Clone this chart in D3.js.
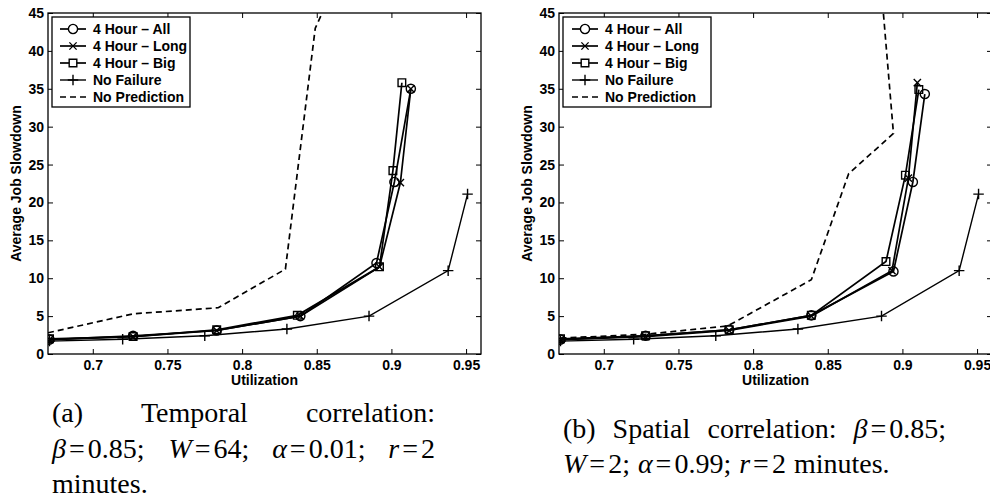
<!DOCTYPE html>
<html>
<head>
<meta charset="utf-8">
<script src="https://cdn.jsdelivr.net/npm/d3@7"></script>
<style>
  body { margin: 0; background: #fff; }
  svg text { font-family: "Liberation Sans", Arial, Helvetica, sans-serif; }
  .cap text { font-family: "Liberation Serif", "Times New Roman", serif; }
</style>
</head>
<body>
<svg id="fig" width="990" height="498"></svg>
<script>
// Achsen-Ticks
const xTicks = [0.7, 0.75, 0.8, 0.85, 0.9, 0.95];
const yTicks = [0, 5, 10, 15, 20, 25, 30, 35, 40, 45];
const legendLabels = ["4 Hour \u2013 All", "4 Hour \u2013 Long", "4 Hour \u2013 Big", "No Failure", "No Prediction"];

// (a) zeitliche Korrelation
const aAllU  = [0.671, 0.727, 0.783, 0.839, 0.890, 0.902, 0.913];
const aAllV  = [1.9, 2.4, 3.1, 5.0, 12.0, 22.7, 35.0];
const aLongU = [0.671, 0.727, 0.783, 0.839, 0.892, 0.906, 0.913];
const aLongV = [1.9, 2.3, 3.1, 5.0, 11.5, 22.6, 35.0];
const aBigU  = [0.671, 0.727, 0.783, 0.837, 0.892, 0.901, 0.907];
const aBigV  = [2.0, 2.3, 3.2, 5.1, 11.5, 24.2, 35.8];
const aNoFailU = [0.671, 0.720, 0.775, 0.830, 0.885, 0.938, 0.951];
const aNoFailV = [1.7, 1.95, 2.4, 3.3, 5.0, 11.0, 21.1];
const aNoPredU = [0.670, 0.727, 0.784, 0.829, 0.849, 0.870];
const aNoPredV = [2.8, 5.3, 6.1, 11.2, 43.0, 52.0];

// (b) räumliche Korrelation
const bAllU  = [0.671, 0.728, 0.784, 0.839, 0.894, 0.907, 0.915];
const bAllV  = [1.9, 2.4, 3.2, 5.1, 10.9, 22.7, 34.3];
const bLongU = [0.671, 0.728, 0.784, 0.839, 0.893, 0.904, 0.910];
const bLongV = [1.9, 2.3, 3.1, 5.0, 11.0, 23.2, 35.8];
const bBigU  = [0.671, 0.728, 0.784, 0.839, 0.889, 0.902, 0.911];
const bBigV  = [2.0, 2.4, 3.2, 5.1, 12.2, 23.6, 34.9];
const bNoFailU = [0.671, 0.720, 0.775, 0.830, 0.886, 0.938, 0.951];
const bNoFailV = [1.7, 1.95, 2.4, 3.3, 5.0, 11.0, 21.1];
const bNoPredU = [0.671, 0.728, 0.783, 0.839, 0.864, 0.894, 0.883];
const bNoPredV = [2.1, 2.6, 3.7, 9.8, 23.8, 29.1, 55.0];

// Bildunterschriften (*...* = kursiv)
const captionA = ["(a) Temporal correlation:", "*\u03b2*=0.85; *W*=64; *\u03b1*=0.01; *r*=2", "minutes."];
const captionB = ["(b) Spatial correlation: *\u03b2*=0.85;", "*W*=2; *\u03b1*=0.99; *r*=2 minutes."];

const zip = (u, v) => u.map((d, i) => [d, v[i]]);
const markers = ["circle", "times", "square", "plus", null];

const svg = d3.select("#fig");
const plotTop = 13, W = 433, H = 341;

const x = d3.scaleLinear().domain([0.67, 0.96]).range([0, W]);
const y = d3.scaleLinear().domain([0, 45]).range([H, 0]);

function markerPath(type) {
  if (type === "circle") return d3.symbol(d3.symbolCircle, 66)();
  if (type === "square") return d3.symbol(d3.symbolSquare, 58)();
  if (type === "times") return d3.symbol(d3.symbolTimes, 36)();
  if (type === "plus") return d3.symbol(d3.symbolPlus, 38)();
  return null;
}

function drawPanel(id, left, series, legendW, legendPad) {
  const g = svg.append("g").attr("transform", `translate(${left},${plotTop})`);

  g.append("clipPath").attr("id", "clip" + id)
    .append("rect").attr("width", W).attr("height", H);

  // Achsen mit Ticks nach innen
  const fmt = d => String(d);
  const xb = g.append("g").attr("transform", `translate(0,${H})`)
    .call(d3.axisBottom(x).tickValues(xTicks).tickFormat(fmt).tickSizeInner(-5).tickSizeOuter(0).tickPadding(6));
  const xt = g.append("g")
    .call(d3.axisTop(x).tickValues(xTicks).tickFormat("").tickSizeInner(-5).tickSizeOuter(0));
  const yl = g.append("g")
    .call(d3.axisLeft(y).tickValues(yTicks).tickFormat(fmt).tickSizeInner(-5).tickSizeOuter(0).tickPadding(4));
  const yr = g.append("g").attr("transform", `translate(${W},0)`)
    .call(d3.axisRight(y).tickValues(yTicks).tickFormat("").tickSizeInner(-5).tickSizeOuter(0));

  [xb, xt, yl, yr].forEach(a => {
    a.select(".domain").remove();
    a.selectAll("line").attr("stroke", "#000").attr("stroke-width", 1);
    a.selectAll("text").attr("fill", "#000")
      .style("font-size", "14px").style("font-weight", "bold");
  });

  g.append("rect").attr("width", W).attr("height", H)
    .attr("fill", "none").attr("stroke", "#000").attr("stroke-width", 1.3);

  // Achsenbeschriftungen
  g.append("text")
    .attr("x", W / 2).attr("y", H + 31)
    .attr("text-anchor", "middle")
    .style("font-size", "14px").style("font-weight", "bold")
    .text("Utilization");

  g.append("text")
    .attr("transform", `translate(-27,${H / 2}) rotate(-90)`)
    .attr("text-anchor", "middle")
    .style("font-size", "14px").style("font-weight", "bold")
    .text("Average Job Slowdown");

  // Datenlinien
  const line = d3.line().x(d => x(d[0])).y(d => y(d[1]));
  const plot = g.append("g").attr("clip-path", `url(#clip${id})`);

  series.slice().reverse().forEach((s, ri) => {
    const i = series.length - 1 - ri;
    plot.append("path")
      .datum(s)
      .attr("d", line)
      .attr("fill", "none")
      .attr("stroke", "#000")
      .attr("stroke-width", i === 3 ? 1.4 : 1.7)
      .attr("stroke-dasharray", i === 4 ? "6,4" : null);

    if (markers[i]) {
      plot.selectAll(null)
        .data(s)
        .enter().append("path")
        .attr("transform", d => `translate(${x(d[0])},${y(d[1])})`)
        .attr("d", markerPath(markers[i]))
        .attr("fill", "none")
        .attr("stroke", "#000")
        .attr("stroke-width", 1.4);
    }
  });

  // Legende
  const lg = g.append("g").attr("transform", "translate(4,4)");
  lg.append("rect")
    .attr("width", legendW).attr("height", 90)
    .attr("fill", "#fff").attr("stroke", "#000").attr("stroke-width", 1.3);

  const item = lg.selectAll(".legend-item")
    .data(legendLabels)
    .enter().append("g")
    .attr("class", "legend-item")
    .attr("transform", (d, i) => `translate(0,${12 + i * 17})`);

  item.append("line")
    .attr("x1", legendPad).attr("x2", legendPad + 26)
    .attr("stroke", "#000")
    .attr("stroke-width", (d, i) => i === 3 ? 1.4 : 1.7)
    .attr("stroke-dasharray", (d, i) => i === 4 ? "6,4" : null);

  item.filter((d, i) => markers[i])
    .append("path")
    .attr("transform", `translate(${legendPad + 13},0)`)
    .attr("d", d => markerPath(markers[legendLabels.indexOf(d)]))
    .attr("fill", "#fff")
    .attr("stroke", "#000")
    .attr("stroke-width", 1.4);

  item.append("text")
    .attr("x", legendPad + 33)
    .attr("dy", "0.36em")
    .style("font-size", "14px").style("font-weight", "bold")
    .text(d => d);
}

drawPanel("a", 48,
  [zip(aAllU, aAllV), zip(aLongU, aLongV), zip(aBigU, aBigV), zip(aNoFailU, aNoFailV), zip(aNoPredU, aNoPredV)],
  138, 8);
drawPanel("b", 559,
  [zip(bAllU, bAllV), zip(bLongU, bLongV), zip(bBigU, bBigV), zip(bNoFailU, bNoFailV), zip(bNoPredU, bNoPredV)],
  148, 9);

// Bildunterschrift im Blocksatz (letzte Zeile linksbündig)
function caption(lines, x0, x1, baselines) {
  const cg = svg.append("g").attr("class", "cap");
  lines.forEach((ln, li) => {
    const words = ln.split(" ").map(w => {
      const t = cg.append("text").attr("y", baselines[li]).style("font-size", "28px").attr("fill", "#000");
      let afterEq = false;
      w.split("*").forEach((part, k) => {
        part.split(/(=)/).forEach(p => {
          if (!p) return;
          const ts = t.append("tspan").style("font-style", k % 2 ? "italic" : "normal").text(p);
          // etwas Luft um das Gleichheitszeichen
          if (p === "=" || afterEq) ts.attr("dx", 3);
          afterEq = p === "=";
        });
      });
      return t;
    });
    const widths = words.map(t => t.node().getBBox().width);
    const last = li === lines.length - 1;
    const gap = last || words.length < 2 ? 8
      : (x1 - x0 - d3.sum(widths)) / (words.length - 1);
    let cx = x0;
    words.forEach((t, i) => { t.attr("x", cx); cx += widths[i] + gap; });
  });
}

caption(captionA, 52, 435, [422, 458, 493]);
caption(captionB, 563, 947, [438, 473]);
</script>
</body>
</html>
